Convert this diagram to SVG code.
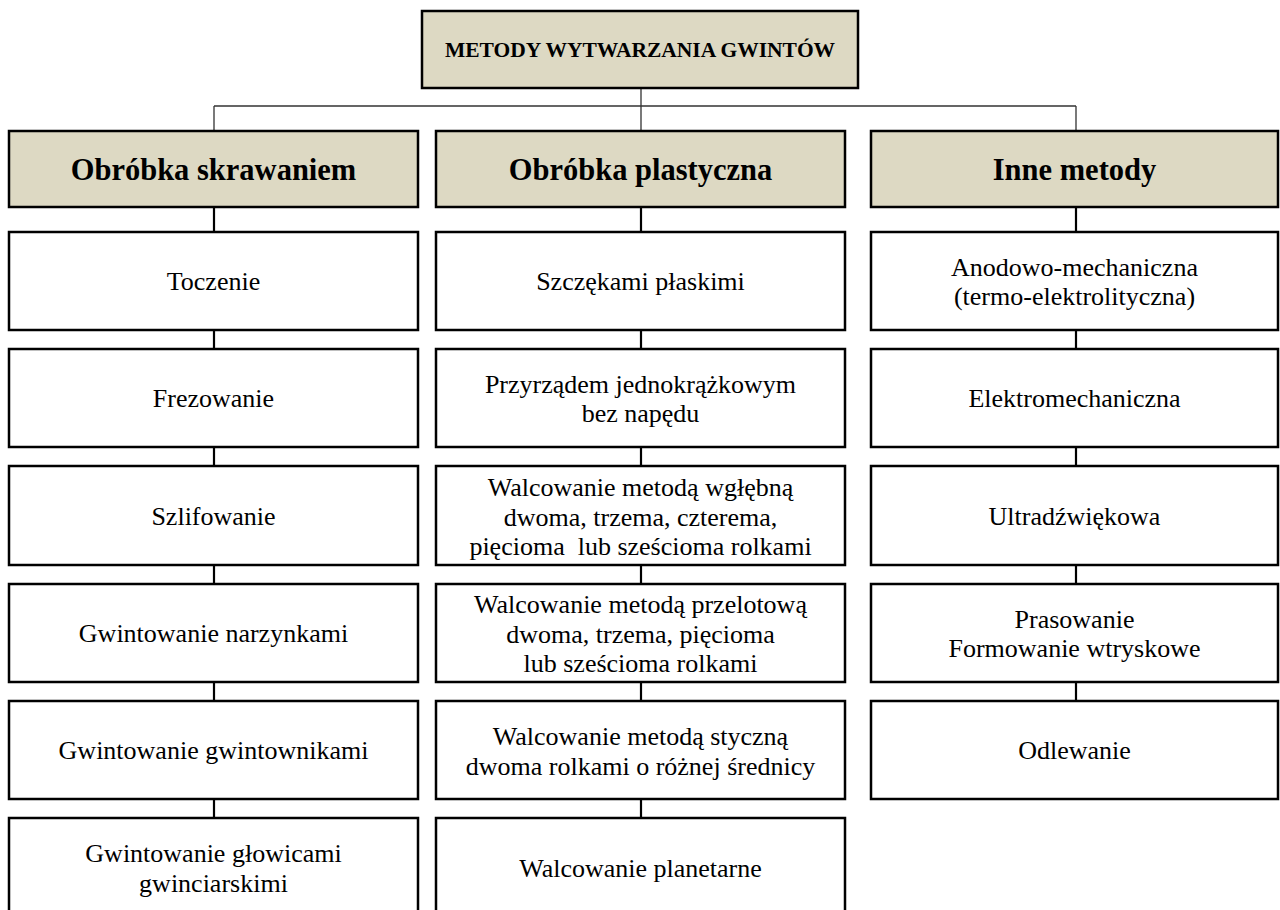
<svg xmlns="http://www.w3.org/2000/svg" width="1280" height="910" viewBox="0 0 1280 910">
<style>
  .bg { fill: #ffffff; }
  .hdr { fill: #DDD9C3; stroke: #000; stroke-width: 2.5; }
  .box { fill: #ffffff; stroke: #000; stroke-width: 2.5; }
  .t { font-family: "Liberation Serif", "Times New Roman", serif; font-size: 26px; fill: #000; text-anchor: middle; white-space: pre; }
  .h { font-family: "Liberation Serif", "Times New Roman", serif; font-size: 30.5px; font-weight: bold; fill: #000; text-anchor: middle; }
  .ttl { font-family: "Liberation Serif", "Times New Roman", serif; font-size: 21.5px; font-weight: bold; fill: #000; text-anchor: middle; }
  .thin { stroke: #333; stroke-width: 1.3; fill: none; }
  .conn { stroke: #000; stroke-width: 2.2; fill: none; }
</style>
<rect class="bg" x="0" y="0" width="1280" height="910"/>

<g id="connectors">
  <path class="thin" d="M214 106 H1076 M214 106 V131 M1076 106 V131 M641 88 V131"/>
  <path class="conn" d="M214 207 V232 M214 330 V349 M214 447 V466 M214 565 V584 M214 682 V701 M214 799 V818"/>
  <path class="conn" d="M641 207 V232 M641 330 V349 M641 447 V466 M641 565 V584 M641 682 V701 M641 799 V818"/>
  <path class="conn" d="M1076 207 V232 M1076 330 V349 M1076 447 V466 M1076 565 V584 M1076 682 V701"/>
</g>

<g id="title">
  <rect class="hdr" x="422" y="11" width="436" height="77"/>
  <text class="ttl" x="640" y="57">METODY WYTWARZANIA GWINTÓW</text>
</g>

<g id="h-skrawanie">
  <rect class="hdr" x="9" y="131" width="409" height="76"/>
  <text class="h" x="213.5" y="180">Obróbka skrawaniem</text>
</g>
<g id="h-plastyczna">
  <rect class="hdr" x="436" y="131" width="409" height="76"/>
  <text class="h" x="640.5" y="180">Obróbka plastyczna</text>
</g>
<g id="h-inne">
  <rect class="hdr" x="871" y="131" width="407" height="76"/>
  <text class="h" x="1074.5" y="180">Inne metody</text>
</g>

<!-- left column -->
<g id="l1"><rect class="box" x="9" y="232" width="409" height="98"/><text class="t" x="213.5" y="290">Toczenie</text></g>
<g id="l2"><rect class="box" x="9" y="349" width="409" height="98"/><text class="t" x="213.5" y="407">Frezowanie</text></g>
<g id="l3"><rect class="box" x="9" y="466" width="409" height="99"/><text class="t" x="213.5" y="525">Szlifowanie</text></g>
<g id="l4"><rect class="box" x="9" y="584" width="409" height="98"/><text class="t" x="213.5" y="642">Gwintowanie narzynkami</text></g>
<g id="l5"><rect class="box" x="9" y="701" width="409" height="98"/><text class="t" x="213.5" y="759">Gwintowanie gwintownikami</text></g>
<g id="l6"><rect class="box" x="9" y="818" width="409" height="98"/><text class="t" x="213.5" y="862">Gwintowanie głowicami</text><text class="t" x="213.5" y="891.5">gwinciarskimi</text></g>

<!-- middle column -->
<g id="m1"><rect class="box" x="436" y="232" width="409" height="98"/><text class="t" x="640.5" y="290">Szczękami płaskimi</text></g>
<g id="m2"><rect class="box" x="436" y="349" width="409" height="98"/><text class="t" x="640.5" y="392.5">Przyrządem jednokrążkowym</text><text class="t" x="640.5" y="422">bez napędu</text></g>
<g id="m3"><rect class="box" x="436" y="466" width="409" height="99"/><text class="t" x="640.5" y="496">Walcowanie metodą wgłębną</text><text class="t" x="640.5" y="525.5">dwoma, trzema, czterema,</text><text class="t" x="640.5" y="555">pięcioma  lub sześcioma rolkami</text></g>
<g id="m4"><rect class="box" x="436" y="584" width="409" height="98"/><text class="t" x="640.5" y="613">Walcowanie metodą przelotową</text><text class="t" x="640.5" y="642.5">dwoma, trzema, pięcioma</text><text class="t" x="640.5" y="672">lub sześcioma rolkami</text></g>
<g id="m5"><rect class="box" x="436" y="701" width="409" height="98"/><text class="t" x="640.5" y="745">Walcowanie metodą styczną</text><text class="t" x="640.5" y="774.5">dwoma rolkami o różnej średnicy</text></g>
<g id="m6"><rect class="box" x="436" y="818" width="409" height="98"/><text class="t" x="640.5" y="877">Walcowanie planetarne</text></g>

<!-- right column -->
<g id="r1"><rect class="box" x="871" y="232" width="407" height="98"/><text class="t" x="1074.5" y="275.5">Anodowo-mechaniczna</text><text class="t" x="1074.5" y="305">(termo-elektrolityczna)</text></g>
<g id="r2"><rect class="box" x="871" y="349" width="407" height="98"/><text class="t" x="1074.5" y="407">Elektromechaniczna</text></g>
<g id="r3"><rect class="box" x="871" y="466" width="407" height="99"/><text class="t" x="1074.5" y="525">Ultradźwiękowa</text></g>
<g id="r4"><rect class="box" x="871" y="584" width="407" height="98"/><text class="t" x="1074.5" y="627.5">Prasowanie</text><text class="t" x="1074.5" y="657">Formowanie wtryskowe</text></g>
<g id="r5"><rect class="box" x="871" y="701" width="407" height="98"/><text class="t" x="1074.5" y="759">Odlewanie</text></g>
</svg>
